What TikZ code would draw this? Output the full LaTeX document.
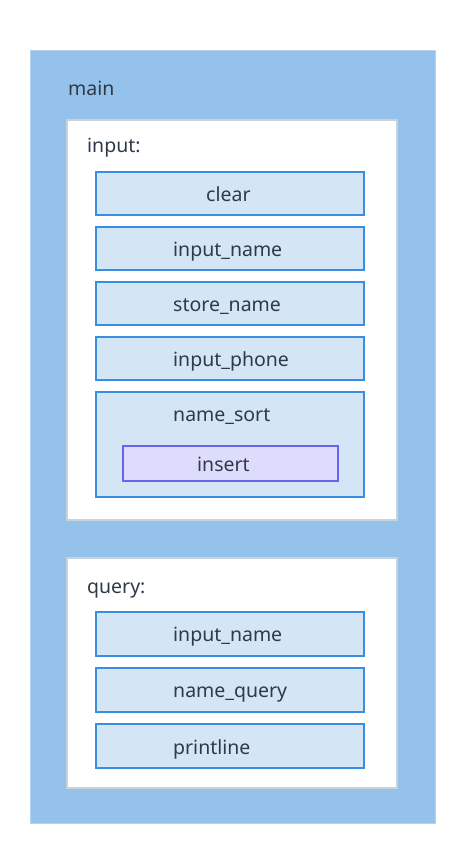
\documentclass[tikz,border=0pt]{standalone}
\usepackage{fontspec}
\setmainfont{Noto Sans}
\definecolor{outerfill}{HTML}{95C2EB}
\definecolor{outerline}{HTML}{B4D3F0}
\definecolor{panelline}{HTML}{C9D3DC}
\definecolor{boxfill}{HTML}{D4E5F5}
\definecolor{boxline}{HTML}{3A8EE0}
\definecolor{insfill}{HTML}{DEDCFC}
\definecolor{insline}{HTML}{6B63F0}
\definecolor{txt}{HTML}{2E3A48}
\begin{document}
\begin{tikzpicture}[x=1pt,y=-1pt,
  outerbox/.style={fill=outerfill,draw=outerline,line width=1pt},
  panel/.style={fill=white,draw=panelline,line width=1.5pt},
  fbox/.style={fill=boxfill,draw=boxline,line width=1.5pt},
  ibox/.style={fill=insfill,draw=insline,line width=1.5pt},
  lbl/.style={anchor=base west,inner sep=0pt,text=txt,font=\fontsize{19.5}{21}\selectfont}]
\useasboundingbox (0,0) rectangle (464,855);
\path[outerbox] (30,50) rectangle (435,823);
\path[panel] (67,120) rectangle (397,520);
\path[panel] (67,558) rectangle (397,788);
\path[fbox] (96,172) rectangle (364,215);
\path[fbox] (96,227) rectangle (364,270);
\path[fbox] (96,282) rectangle (364,325);
\path[fbox] (96,337) rectangle (364,380);
\path[fbox] (96,392) rectangle (364,497);
\path[ibox] (123,446) rectangle (338,481);
\path[fbox] (96,612) rectangle (364,656);
\path[fbox] (96,668) rectangle (364,712);
\path[fbox] (96,724) rectangle (364,768);
\node[lbl] (tmain) at (68,95) {main};
\node[lbl] (tinput) at (87,152) {input:};
\node[lbl] (tclear) at (206,201) {clear};
\node[lbl] (tin1) at (173,256) {input\_name};
\node[lbl] (tstore) at (173,311) {store\_name};
\node[lbl] (tphone) at (173,366) {input\_phone};
\node[lbl] (tsort) at (173,421.5) {name\_sort};
\node[lbl] (tins) at (197,471.5) {insert};
\node[lbl] (tquery) at (87,593) {query:};
\node[lbl] (tin2) at (173,641.5) {input\_name};
\node[lbl] (tnq) at (173,697.5) {name\_query};
\node[lbl] (tprint) at (173,754) {printline};
\end{tikzpicture}
\end{document}
